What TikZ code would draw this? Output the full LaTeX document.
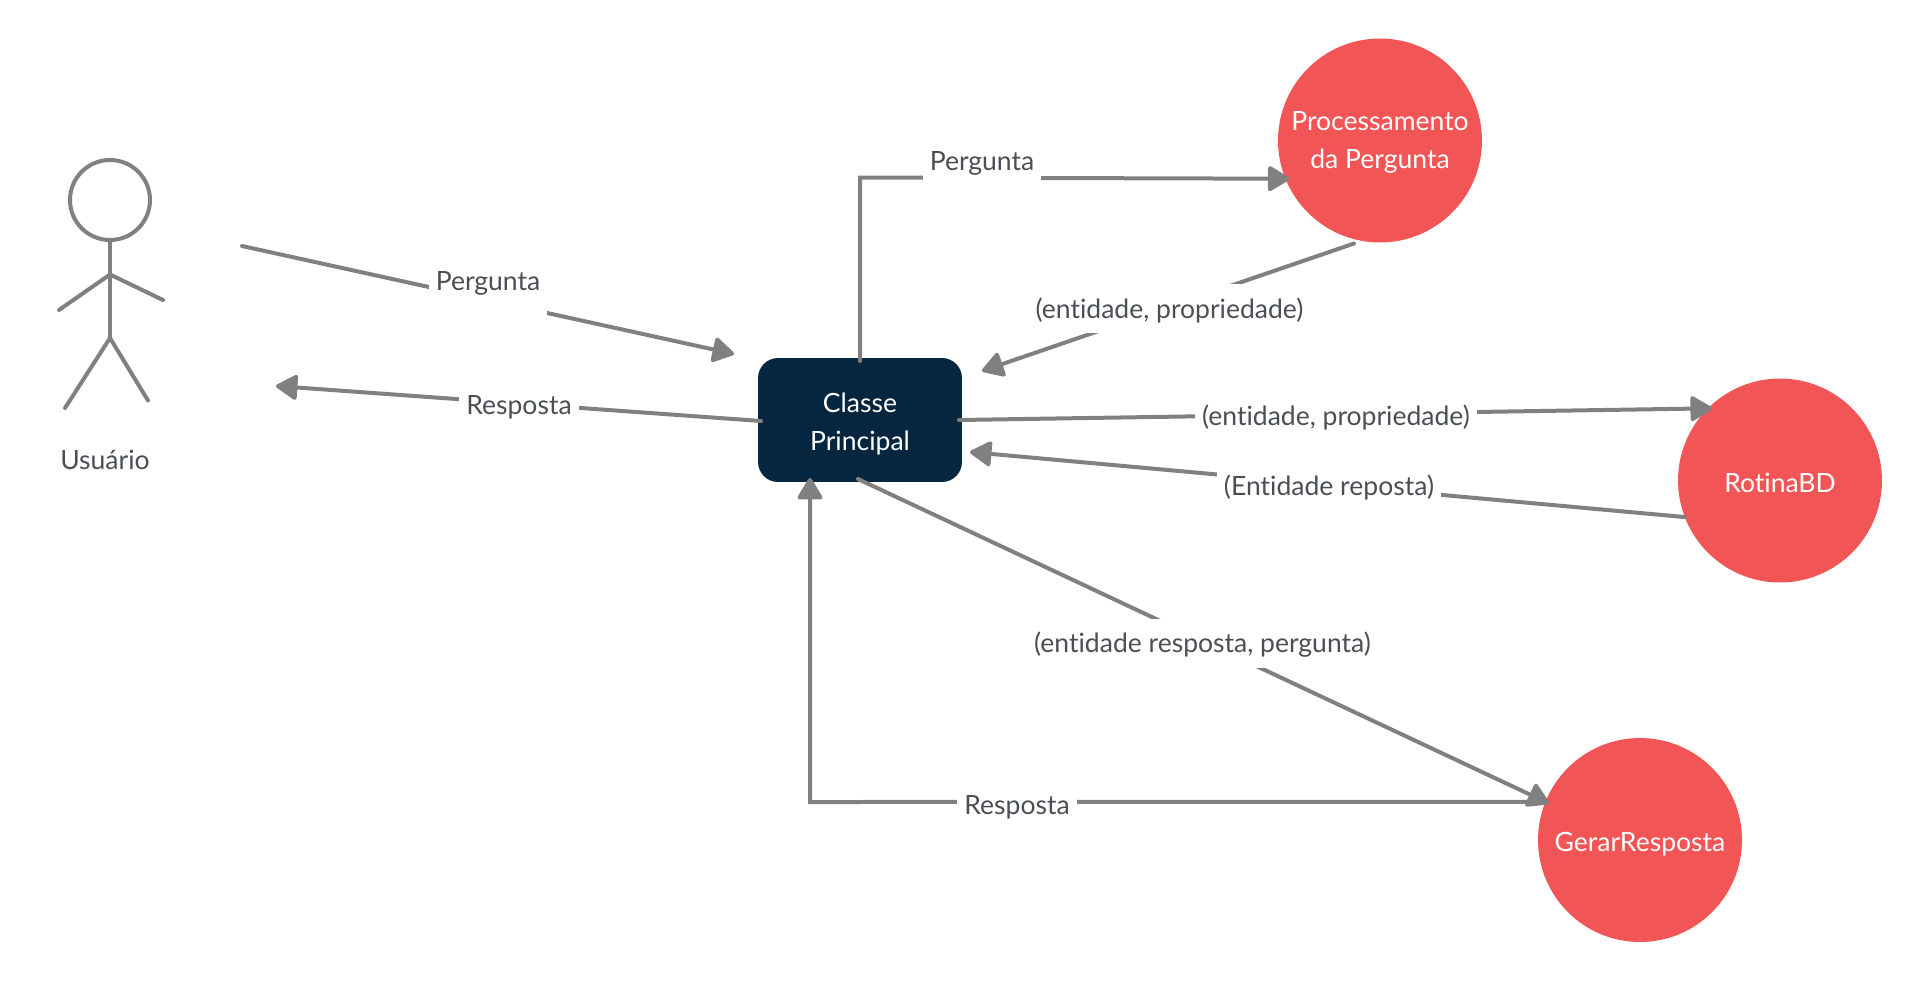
\documentclass[tikz,border=0pt]{standalone}
\usepackage{fontspec}
\setmainfont[Ligatures=NoCommon]{Lato}
\usetikzlibrary{arrows.meta,positioning,calc}

\definecolor{flowgray}{HTML}{808080}
\definecolor{labelgray}{HTML}{4A4F55}
\definecolor{mainblue}{HTML}{05263E}
\definecolor{stepred}{HTML}{F25555}

\tikzset{
    bodytext/.style={font=\fontsize{15.1}{21.6}\selectfont, align=center},
    oneline/.style={text height=1.19em, text depth=0.1em},
    circleline/.style={text height=1.45em, text depth=0.1em},
    proclines/.style={text height=3.25em, text depth=0.1em},
    mainbox/.style={bodytext, text height=3.62em, text depth=0.1em, rectangle, rounded corners=0.4cm,
                    fill=mainblue, text=white, minimum width=4.08cm, minimum height=2.48cm},
    stepcircle/.style={bodytext, circle, fill=stepred, text=white, inner sep=0pt, outer sep=0pt,
                       minimum size=4.08cm},
    flowline/.style={draw=flowgray, line width=0.08cm, line cap=round},
    flowarrow/.style={flowline, -{Triangle[length=0.47cm,width=0.54cm,round]}},
    flowin/.style={flowarrow, shorten >=-0.08cm},
    flowlabel/.style={bodytext, oneline, fill=white, text=labelgray, inner xsep=0.14cm, inner ysep=0pt,
                      minimum height=0.98cm}
}

\begin{document}
\begin{tikzpicture}[x=0.02cm, y=-0.02cm]
    \useasboundingbox (0,0) rectangle (1920,981);

    % Actor
    \node[circle, flowline, inner sep=0pt, minimum size=1.6cm] (head) at (110,200) {};
    \coordinate (shoulder) at (110,274.5);
    \coordinate (hip) at (110,338);
    \draw[flowline] (head.south) -- (hip);
    \draw[flowline] (59,310) -- (shoulder) -- (163,300);
    \draw[flowline] (65,408) -- (hip) -- (148,400.5);
    \node[bodytext, oneline, text=labelgray] (user) at (105,460) {Usuário};

    % Main class
    \node[mainbox] (main) at (860,420) {Classe\\Principal};

    % Processing steps
    \foreach \name/\pos/\txt/\kind in {proc/{1380,140.5}/{Processamento\\da Pergunta}/proclines,
                                       rotina/{1780,480.5}/{RotinaBD}/circleline,
                                       gerar/{1640,840}/{GerarResposta}/circleline} {
        \node[stepcircle, \kind] (\name) at (\pos) {\txt};
    }

    % Free ends of the connectors
    \coordinate (userout) at (242,246);
    \coordinate (userin) at (276,386);
    \coordinate (mainleft) at (734,354);
    \coordinate (maintop) at (982,371);
    \coordinate (mainright) at (970,452);
    \coordinate (mainbottom) at (810,478);
    \coordinate (procout) at (1354,243.5);
    \coordinate (mainturn) at (860,177.5);

    % Connectors
    \draw[flowarrow] (userout) -- (mainleft);
    \draw[flowarrow] (761,421) -- (userin);
    \draw[flowin] (860,361) -- (mainturn) -- (proc.202);
    \draw[flowarrow] (procout) -- (maintop);
    \draw[flowin] (959,420) -- (rotina.135);
    \draw[flowarrow] (rotina.201) -- (mainright);
    \draw[flowin] (858,479) -- (gerar.158);
    \draw[flowarrow] (gerar.158) -- (810,802) -- (mainbottom);

    % Connector labels
    \node[flowlabel, minimum height=1.36cm] (l1) at (488,281) {Pergunta};
    \node[flowlabel] (l2) at (519,405) {Resposta};
    \node[flowlabel] (l3) at (982,161) {Pergunta};
    \node[flowlabel] (l4) at (1169.5,308.5) {(entidade, propriedade)};
    \node[flowlabel] (l5) at (1336,416) {(entidade, propriedade)};
    \node[flowlabel] (l6) at (1329,486) {(Entidade reposta)};
    \node[flowlabel] (l7) at (1202.5,643) {(entidade resposta, pergunta)};
    \node[flowlabel] (l8) at (1017,805) {Resposta};
\end{tikzpicture}
\end{document}
